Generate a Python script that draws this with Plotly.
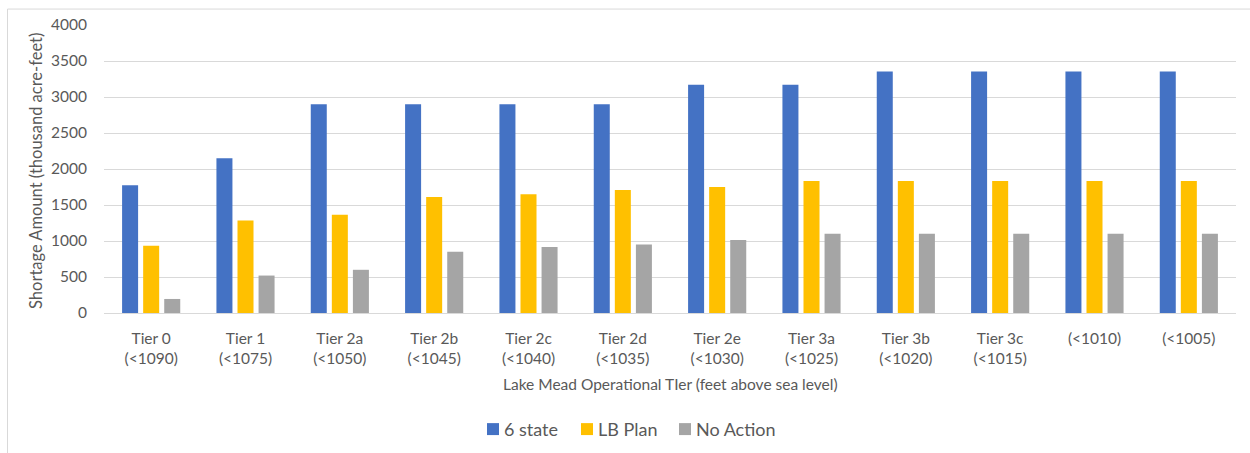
import plotly.graph_objects as go

tiers = ["Tier 0", "Tier 1", "Tier 2a", "Tier 2b", "Tier 2c", "Tier 2d", "Tier 2e",
         "Tier 3a", "Tier 3b", "Tier 3c", "", ""]
levels = ["(<1090)", "(<1075)", "(<1050)", "(<1045)", "(<1040)", "(<1035)", "(<1030)",
          "(<1025)", "(<1020)", "(<1015)", "(<1010)", "(<1005)"]
series_names = ["6 state", "LB Plan", "No Action"]
six_state = [1775, 2150, 2900, 2900, 2900, 2900, 3170, 3170, 3355, 3355, 3355, 3355]
lb_plan = [935, 1285, 1365, 1610, 1650, 1710, 1750, 1835, 1835, 1835, 1835, 1835]
no_action = [195, 520, 600, 850, 915, 950, 1015, 1100, 1100, 1100, 1100, 1100]
y_ticks = [0, 500, 1000, 1500, 2000, 2500, 3000, 3500, 4000]
colors = ["#4472C4", "#FFC000", "#A5A5A5"]

W, H = 1250, 453
L, R, T, B = 104, 14, 24.5, 139.5
PW, PH = W - L - R, H - T - B

def px_x(px):
    return (px - L) / PW

def px_y(py):
    return (H - B - py) / PH

labels = []
for t, lv in zip(tiers, levels):
    lv_e = lv.replace("<", "&lt;")
    labels.append(f"{t}<br>{lv_e}" if t else lv_e)

font = "Lato, 'Open Sans', sans-serif"
txt = "#595959"

fig = go.Figure()
for name, vals, col in zip(series_names, [six_state, lb_plan, no_action], colors):
    fig.add_trace(go.Bar(x=list(range(len(labels))), y=vals, name=name, showlegend=False,
                         marker=dict(color=col, line=dict(width=0))))

# legend drawn as squares + text (positions in pixels)
leg_sq_x = [487, 581, 679]
annotations = [
    dict(text="Lake Mead Operational TIer (feet above sea level)", xref="paper", yref="paper",
         x=px_x(670), y=px_y(385), xanchor="center", yanchor="middle", showarrow=False,
         font=dict(size=15.5, color=txt)),
    dict(text="Shortage Amount (thousand acre-feet)", xref="paper", yref="paper",
         x=px_x(36), y=px_y(171), xanchor="center", yanchor="middle", showarrow=False,
         textangle=-90, font=dict(size=16.5, color=txt)),
]
shapes = [dict(type="rect", xref="paper", yref="paper",
               x0=px_x(7.5), x1=px_x(1270), y0=px_y(480), y1=px_y(8.5),
               line=dict(color="#D9D9D9", width=1), fillcolor="rgba(0,0,0,0)", layer="below")]
for name, col, sx in zip(series_names, colors, leg_sq_x):
    shapes.append(dict(type="rect", xref="paper", yref="paper",
                       x0=px_x(sx), x1=px_x(sx + 12), y0=px_y(436), y1=px_y(424),
                       line=dict(width=0), fillcolor=col))
    annotations.append(dict(text=name, xref="paper", yref="paper", x=px_x(sx + 15),
                            y=px_y(430), xanchor="left", yanchor="middle", showarrow=False,
                            font=dict(size=18, color=txt)))

fig.update_layout(
    width=W, height=H,
    margin=dict(l=L, r=R, t=T, b=B, pad=0, autoexpand=False),
    paper_bgcolor="white", plot_bgcolor="white",
    barmode="group", bargap=0.33, bargroupgap=0.24,
    font=dict(family=font, color=txt, size=15.5),
    showlegend=False,
    xaxis=dict(tickmode="array", tickvals=list(range(len(labels))), ticktext=labels,
               range=[-0.5, len(labels) - 0.5], showgrid=False, zeroline=False,
               showline=False, ticks="", ticklabelstandoff=14, automargin=False,
               tickfont=dict(size=15.5, color=txt)),
    yaxis=dict(range=[0, 4000], tickvals=y_ticks, showgrid=True, gridcolor="#D9D9D9",
               gridwidth=1, zeroline=True, zerolinecolor="#D9D9D9", zerolinewidth=1,
               showline=False, ticks="", ticklabelstandoff=16, automargin=False,
               tickfont=dict(size=15.5, color=txt)),
    annotations=annotations,
    shapes=shapes,
)

fig.write_html("out.html", config={"displayModeBar": False},
               post_script="document.body.style.margin='0';document.body.style.padding='0';")
